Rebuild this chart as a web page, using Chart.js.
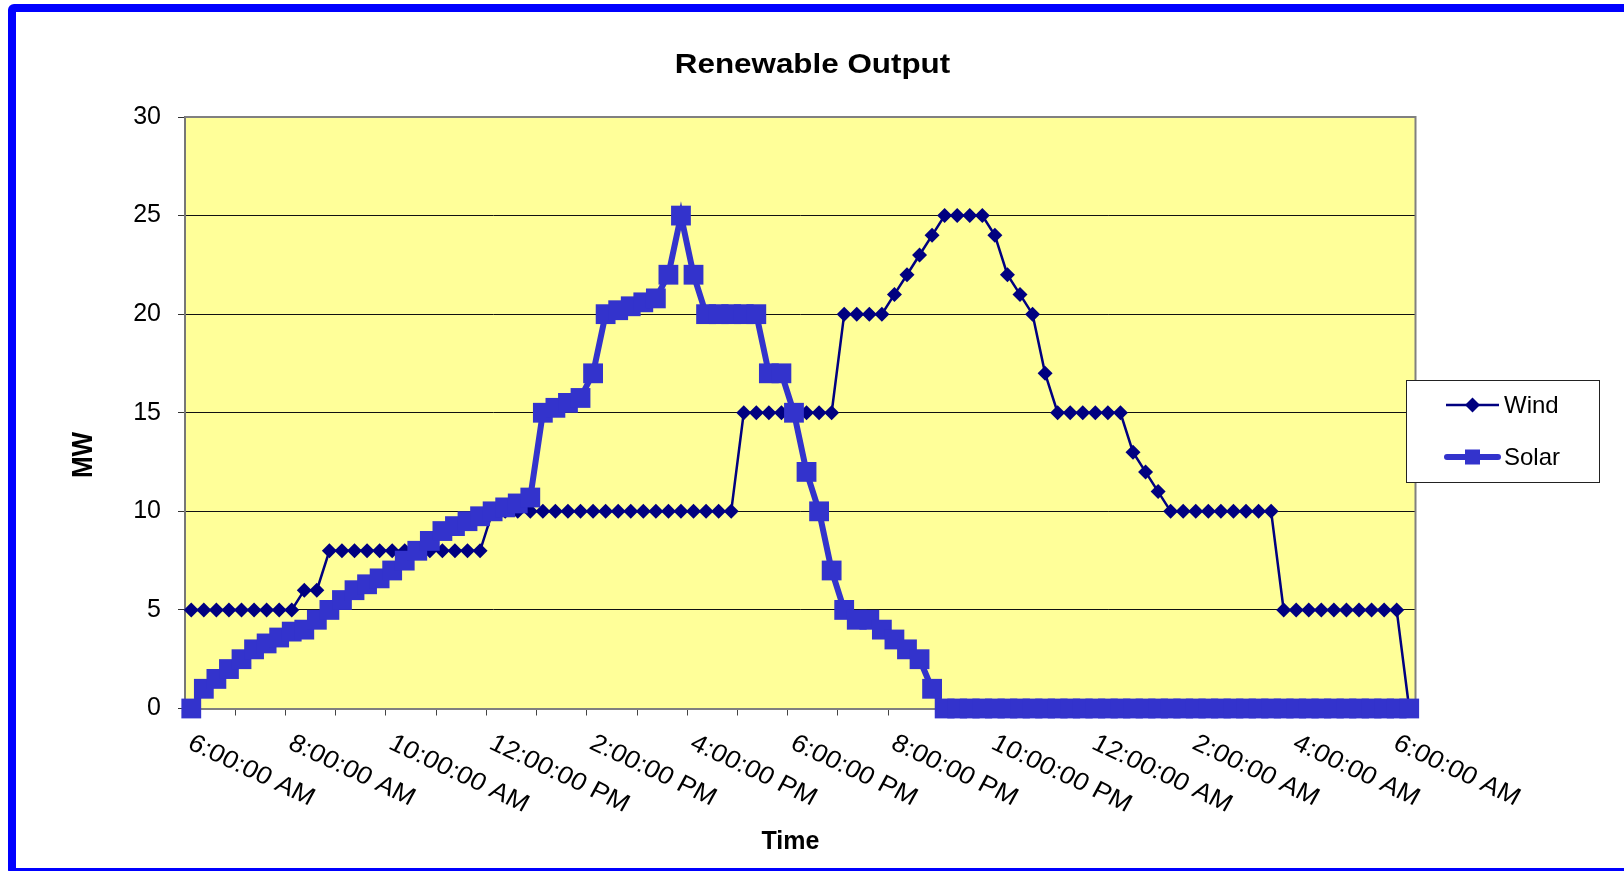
<!DOCTYPE html>
<html>
<head>
<meta charset="utf-8">
<title>Renewable Output</title>
<script src="https://cdn.jsdelivr.net/npm/chart.js@4.4.1/dist/chart.umd.min.js"></script>
<style>
    html, body { margin: 0; padding: 0; background: #fff; overflow: hidden; }
    #frame { position: absolute; left: 8px; top: 4px; width: 1700px; height: 856px; border: 8px solid #0000ff; border-radius: 6px; }
    #chart { position: absolute; left: 0; top: 0; }
</style>
</head>
<body>
<div id="frame"></div>
<canvas id="chart" width="1624" height="871"></canvas>
<script>
// time of day, every 15 minutes
const times = [
    '6:00:00 AM', '6:15:00 AM', '6:30:00 AM', '6:45:00 AM', '7:00:00 AM', '7:15:00 AM', '7:30:00 AM', '7:45:00 AM',
    '8:00:00 AM', '8:15:00 AM', '8:30:00 AM', '8:45:00 AM', '9:00:00 AM', '9:15:00 AM', '9:30:00 AM', '9:45:00 AM',
    '10:00:00 AM', '10:15:00 AM', '10:30:00 AM', '10:45:00 AM', '11:00:00 AM', '11:15:00 AM', '11:30:00 AM', '11:45:00 AM',
    '12:00:00 PM', '12:15:00 PM', '12:30:00 PM', '12:45:00 PM', '1:00:00 PM', '1:15:00 PM', '1:30:00 PM', '1:45:00 PM',
    '2:00:00 PM', '2:15:00 PM', '2:30:00 PM', '2:45:00 PM', '3:00:00 PM', '3:15:00 PM', '3:30:00 PM', '3:45:00 PM',
    '4:00:00 PM', '4:15:00 PM', '4:30:00 PM', '4:45:00 PM', '5:00:00 PM', '5:15:00 PM', '5:30:00 PM', '5:45:00 PM',
    '6:00:00 PM', '6:15:00 PM', '6:30:00 PM', '6:45:00 PM', '7:00:00 PM', '7:15:00 PM', '7:30:00 PM', '7:45:00 PM',
    '8:00:00 PM', '8:15:00 PM', '8:30:00 PM', '8:45:00 PM', '9:00:00 PM', '9:15:00 PM', '9:30:00 PM', '9:45:00 PM',
    '10:00:00 PM', '10:15:00 PM', '10:30:00 PM', '10:45:00 PM', '11:00:00 PM', '11:15:00 PM', '11:30:00 PM', '11:45:00 PM',
    '12:00:00 AM', '12:15:00 AM', '12:30:00 AM', '12:45:00 AM', '1:00:00 AM', '1:15:00 AM', '1:30:00 AM', '1:45:00 AM',
    '2:00:00 AM', '2:15:00 AM', '2:30:00 AM', '2:45:00 AM', '3:00:00 AM', '3:15:00 AM', '3:30:00 AM', '3:45:00 AM',
    '4:00:00 AM', '4:15:00 AM', '4:30:00 AM', '4:45:00 AM', '5:00:00 AM', '5:15:00 AM', '5:30:00 AM', '5:45:00 AM',
    '6:00:00 AM', '6:15:00 AM'
];

// MW
const wind = [
    5, 5, 5, 5, 5, 5, 5, 5, 5, 6,
    6, 8, 8, 8, 8, 8, 8, 8, 8, 8,
    8, 8, 8, 8, 10, 10, 10, 10, 10, 10,
    10, 10, 10, 10, 10, 10, 10, 10, 10, 10,
    10, 10, 10, 10, 15, 15, 15, 15, 15, 15,
    15, 15, 20, 20, 20, 20, 21, 22, 23, 24,
    25, 25, 25, 25, 24, 22, 21, 20, 17, 15,
    15, 15, 15, 15, 15, 13, 12, 11, 10, 10,
    10, 10, 10, 10, 10, 10, 10, 5, 5, 5,
    5, 5, 5, 5, 5, 5, 5, 0
];

const solar = [
    0, 1, 1.5, 2, 2.5, 3, 3.3, 3.6, 3.9, 4,
    4.5, 5, 5.5, 6, 6.3, 6.6, 7, 7.5, 8, 8.5,
    9, 9.25, 9.5, 9.75, 10, 10.2, 10.4, 10.7, 15, 15.25,
    15.5, 15.75, 17, 20, 20.2, 20.4, 20.6, 20.8, 22, 25,
    22, 20, 20, 20, 20, 20, 17, 17, 15, 12,
    10, 7, 5, 4.5, 4.5, 4, 3.5, 3, 2.5, 1,
    0, 0, 0, 0, 0, 0, 0, 0, 0, 0,
    0, 0, 0, 0, 0, 0, 0, 0, 0, 0,
    0, 0, 0, 0, 0, 0, 0, 0, 0, 0,
    0, 0, 0, 0, 0, 0, 0, 0
];

const FONT = "'Liberation Sans', Arial, sans-serif";
const WIND_COLOR = '#000080';
const SOLAR_COLOR = '#3333cc';

// plot background, outline, titles, rotated time labels and the legend box
const excelLook = {
    id: 'excelLook',
    beforeDraw(chart) {
        const { ctx, chartArea: a } = chart;
        ctx.save();
        ctx.fillStyle = '#ffff99';
        ctx.fillRect(a.left, a.top, a.right - a.left, a.bottom - a.top);
        ctx.restore();
    },
    beforeDatasetsDraw(chart) {
        const { ctx, chartArea: a } = chart;
        ctx.save();
        ctx.strokeStyle = '#808080';
        ctx.lineWidth = 2;
        ctx.beginPath();
        ctx.moveTo(a.left, a.top);
        ctx.lineTo(a.right, a.top);
        ctx.lineTo(a.right, a.bottom);
        ctx.stroke();
        ctx.restore();
    },
    afterDraw(chart) {
        const { ctx } = chart;
        const x = chart.scales.x;
        ctx.save();
        ctx.fillStyle = '#000';

        // title
        ctx.save();
        ctx.translate(812.5, 72.5);
        ctx.scale(1.12, 1);
        ctx.font = 'bold 28px ' + FONT;
        ctx.textAlign = 'center';
        ctx.textBaseline = 'alphabetic';
        ctx.fillText('Renewable Output', 0, 0);
        ctx.restore();

        // axis titles
        ctx.save();
        ctx.translate(84, 455);
        ctx.rotate(-Math.PI / 2);
        ctx.scale(1, 1.12);
        ctx.font = 'bold 26px ' + FONT;
        ctx.textAlign = 'center';
        ctx.textBaseline = 'middle';
        ctx.fillText('MW', 0, 0);
        ctx.restore();

        ctx.font = 'bold 25px ' + FONT;
        ctx.textAlign = 'center';
        ctx.textBaseline = 'alphabetic';
        ctx.fillText('Time', 790.5, 849);

        // time labels, every 2 hours
        ctx.font = '25px ' + FONT;
        ctx.textAlign = 'left';
        times.forEach((t, i) => {
            if (i % 8 !== 0) return;
            ctx.save();
            ctx.translate(x.getPixelForValue(i) - 5, 748);
            ctx.scale(1.08, 1);
            ctx.rotate(27 * Math.PI / 180);
            ctx.fillText(t, 0, 0);
            ctx.restore();
        });

        // legend
        ctx.fillStyle = '#fff';
        ctx.fillRect(1406.5, 380.5, 193, 102);
        ctx.strokeStyle = '#222';
        ctx.lineWidth = 1;
        ctx.strokeRect(1406.5, 380.5, 193, 102);

        ctx.strokeStyle = WIND_COLOR;
        ctx.lineWidth = 2.5;
        ctx.beginPath();
        ctx.moveTo(1446, 405);
        ctx.lineTo(1499, 405);
        ctx.stroke();
        ctx.fillStyle = WIND_COLOR;
        ctx.beginPath();
        ctx.moveTo(1472.5, 397.5);
        ctx.lineTo(1480, 405);
        ctx.lineTo(1472.5, 412.5);
        ctx.lineTo(1465, 405);
        ctx.closePath();
        ctx.fill();

        ctx.strokeStyle = SOLAR_COLOR;
        ctx.lineWidth = 6;
        ctx.lineCap = 'round';
        ctx.beginPath();
        ctx.moveTo(1447, 457);
        ctx.lineTo(1498, 457);
        ctx.stroke();
        ctx.fillStyle = SOLAR_COLOR;
        ctx.fillRect(1465, 449.5, 15, 15);

        ctx.fillStyle = '#000';
        ctx.font = '24px ' + FONT;
        ctx.textAlign = 'left';
        ctx.textBaseline = 'middle';
        ctx.fillText('Wind', 1504, 406);
        ctx.fillText('Solar', 1504, 458);
        ctx.restore();
    }
};

new Chart(document.getElementById('chart').getContext('2d'), {
    type: 'line',
    data: {
        labels: times,
        datasets: [{
            label: 'Wind',
            data: wind,
            borderColor: WIND_COLOR,
            backgroundColor: WIND_COLOR,
            borderWidth: 2.5,
            pointStyle: 'rectRot',
            pointRadius: 7.5,
            pointHoverRadius: 7.5,
            pointBorderWidth: 0,
            tension: 0,
            clip: false,
            order: 1
        }, {
            label: 'Solar',
            data: solar,
            borderColor: SOLAR_COLOR,
            backgroundColor: SOLAR_COLOR,
            borderWidth: 6,
            pointStyle: 'rect',
            pointRadius: 14,
            pointHoverRadius: 14,
            pointBorderWidth: 0,
            tension: 0,
            clip: false,
            order: 0
        }]
    },
    options: {
        responsive: false,
        animation: false,
        layout: { padding: { left: 115, right: 208.5, top: 117, bottom: 152.5 } },
        plugins: {
            legend: { display: false },
            title: { display: false },
            tooltip: { enabled: false }
        },
        scales: {
            x: {
                offset: true,
                grid: {
                    offset: true,
                    drawOnChartArea: false,
                    tickLength: 7,
                    tickColor: (c) => (c.index !== undefined && c.index % 4 === 0) ? '#444' : 'rgba(0,0,0,0)'
                },
                border: { color: '#808080', width: 2 },
                ticks: { display: false, autoSkip: false },
                afterFit: (s) => { s.height = 10; }
            },
            y: {
                min: 0,
                max: 30,
                ticks: {
                    stepSize: 5,
                    color: '#000',
                    padding: 17,
                    font: { family: FONT, size: 25 }
                },
                grid: {
                    color: (c) => (c.tick && (c.tick.value === 0 || c.tick.value === 30)) ? 'rgba(0,0,0,0)' : '#111',
                    tickColor: '#333',
                    tickLength: 7
                },
                border: { color: '#777', width: 2 },
                afterFit: (s) => { s.width = 70; }
            }
        }
    },
    plugins: [excelLook]
});
</script>
</body>
</html>
